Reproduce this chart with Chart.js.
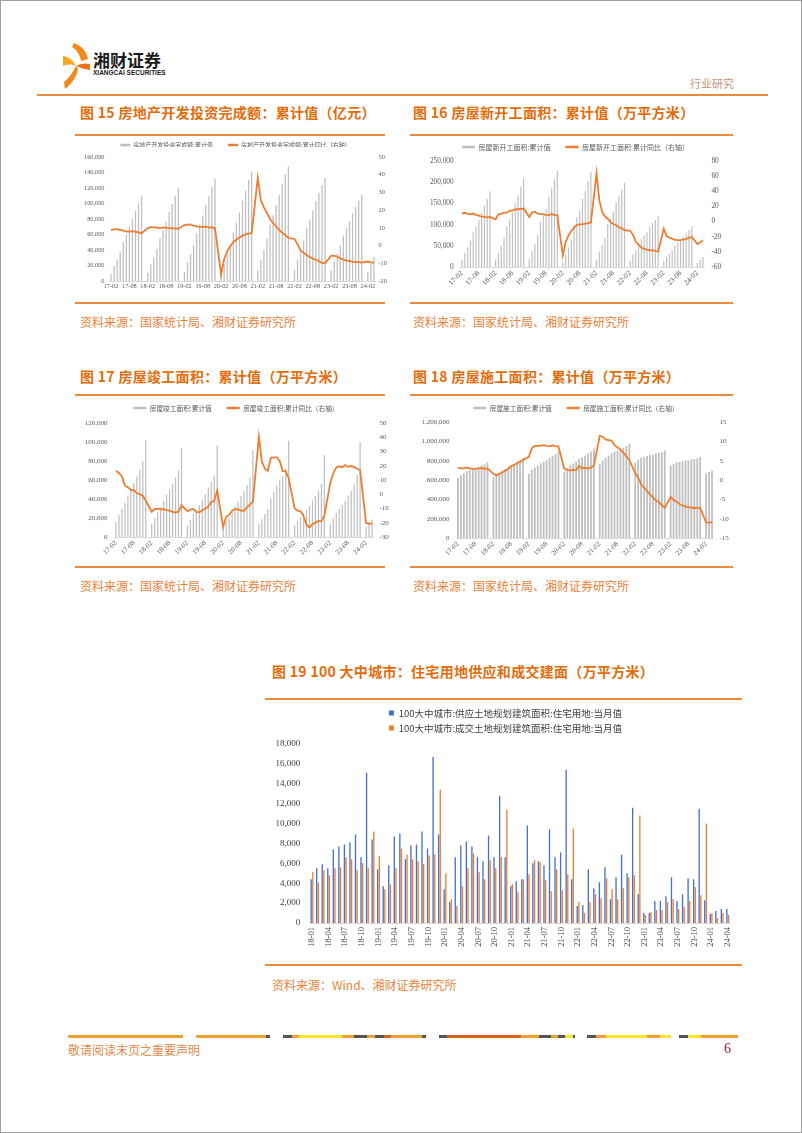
<!DOCTYPE html>
<html>
<head>
<meta charset="utf-8">
<script src="https://cdn.jsdelivr.net/npm/chart.js@4.4.1/dist/chart.umd.min.js"></script>
<style>
  body { margin: 0; background: #fff; }
  #frame { position: absolute; left: 0; top: 0; width: 802px; height: 1133px; box-sizing: border-box; border: 1px solid #a0a0a0; }
  .t { position: absolute; white-space: nowrap; font-family: "Noto Sans CJK SC", sans-serif; }
  .title { font-size: 14px; line-height: 16px; font-weight: bold; color: #e46c0a; letter-spacing: 0.3px; }
  .src { font-size: 12px; line-height: 14px; color: #e8823a; }
  .rule { position: absolute; height: 2px; background: #ec8a3c; }
  canvas { position: absolute; }
  .seg { position: absolute; top: 1035px; height: 3px; }
</style>
</head>
<body>
<div id="frame"></div>

<!-- 页眉 -->
<svg style="position:absolute;left:60px;top:42px" width="32" height="48" viewBox="0 0 32 48">
  <path d="M14 1 C22 4 27 10 28 17 L21 19 C20 13 17 8 12 5 Z" fill="#f08a1c"/>
  <path d="M3 14 C9 15 14 19 16 24 C12 22 7 22 3 24 Z" fill="#f5a623"/>
  <path d="M16 24 C21 21 26 21 30 22 L30 28 C25 27 20 26 16 24 Z" fill="#e8731a"/>
  <path d="M16 24 C13 30 9 36 4 40 L5 47 C12 42 17 34 18 27 Z" fill="#f08a1c"/>
</svg>
<div class="t" style="left:93px;top:50px;font-size:17px;line-height:20px;font-weight:bold;color:#1a1a1a">湘财证券</div>
<div class="t" style="left:93px;top:69px;font-size:6.5px;line-height:8px;font-weight:bold;color:#1a1a1a;font-family:'Liberation Sans Narrow','Liberation Sans',sans-serif">XIANGCAI SECURITIES</div>
<div class="t" style="left:690px;top:76px;font-size:11px;line-height:14px;color:#c4937a">行业研究</div>
<div class="rule" style="left:37px;top:94px;width:731px"></div>

<!-- 图15 / 图16 -->
<div class="t title" style="left:80px;top:104px">图 15 房地产开发投资完成额：累计值（亿元）</div>
<div class="t title" style="left:413px;top:104px">图 16 房屋新开工面积：累计值（万平方米）</div>
<div class="rule" style="left:75px;top:134px;width:310px"></div>
<div class="rule" style="left:410px;top:134px;width:323px"></div>
<canvas id="c15" width="321" height="158" style="left:75px;top:137px"></canvas>
<canvas id="c16" width="319" height="156" style="left:410px;top:137px"></canvas>
<div class="rule" style="left:75px;top:302px;width:310px"></div>
<div class="rule" style="left:410px;top:302px;width:323px"></div>
<div class="t src" style="left:80px;top:315px">资料来源：国家统计局、湘财证券研究所</div>
<div class="t src" style="left:413px;top:315px">资料来源：国家统计局、湘财证券研究所</div>

<!-- 图17 / 图18 -->
<div class="t title" style="left:80px;top:368px">图 17 房屋竣工面积：累计值（万平方米）</div>
<div class="t title" style="left:413px;top:368px">图 18 房屋施工面积：累计值（万平方米）</div>
<div class="rule" style="left:75px;top:394px;width:310px"></div>
<div class="rule" style="left:410px;top:394px;width:323px"></div>
<canvas id="c17" width="319" height="161" style="left:75px;top:398px"></canvas>
<canvas id="c18" width="336" height="162" style="left:400px;top:398px"></canvas>
<div class="rule" style="left:75px;top:566px;width:310px"></div>
<div class="rule" style="left:410px;top:566px;width:323px"></div>
<div class="t src" style="left:80px;top:579px">资料来源：国家统计局、湘财证券研究所</div>
<div class="t src" style="left:413px;top:579px">资料来源：国家统计局、湘财证券研究所</div>

<!-- 图19 -->
<div class="t title" style="left:272px;top:663px">图 19 100 大中城市：住宅用地供应和成交建面（万平方米）</div>
<div class="rule" style="left:265px;top:698px;width:477px"></div>
<canvas id="c19" width="477" height="263" style="left:265px;top:700px"></canvas>
<div class="rule" style="left:265px;top:964px;width:477px"></div>
<div class="t src" style="left:272px;top:978px">资料来源：Wind、湘财证券研究所</div>

<!-- 页脚 -->
<div id="footbar"></div>
<div class="t" style="left:68px;top:1043px;font-size:12px;line-height:14px;color:#e08a4a">敬请阅读末页之重要声明</div>
<div class="t" style="left:724px;top:1041px;font-size:14px;line-height:16px;color:#9b2335;font-family:'Liberation Serif',serif">6</div>

<script>
// 月份时间轴：17-02 ~ 24-04（1月无单独数据，留空）
const allMonths = [];
['17', '18', '19', '20', '21', '22', '23', '24'].forEach(y =>
  ['01', '02', '03', '04', '05', '06', '07', '08', '09', '10', '11', '12'].forEach(m => allMonths.push(y + '-' + m)));
const cumLabels = allMonths.slice(1, allMonths.indexOf('24-04') + 1);

// 图15 房地产开发投资完成额（亿元，每年 02~12 月）
const invCum = [9478, 19292, 27732, 37476, 50610, 59761, 69694, 80644, 90544, 100387, 109799,
  10357, 21291, 30592, 41362, 55531, 65559, 76519, 88948, 99325, 110083, 120264,
  12090, 23803, 34217, 46075, 61609, 72843, 84589, 98008, 109603, 121265, 132194,
  10115, 21963, 33103, 45920, 62780, 75325, 88454, 103484, 116556, 130492, 141443,
  13986, 27576, 40240, 54318, 72179, 84895, 98060, 110903, 124934, 137688, 147602,
  14499, 27765, 39154, 52134, 68314, 79462, 90809, 103559, 113945, 123863, 132895,
  13669, 25974, 35514, 45701, 58550, 67717, 76900, 87269, 95922, 104045, 110913,
  11842, 22082, 30928];
const invYoy = [8.9, 9.1, 9.3, 8.8, 8.5, 7.9, 7.9, 8.1, 7.8, 7.5, 7.0,
  9.9, 10.4, 10.3, 10.2, 9.7, 10.2, 10.1, 9.9, 9.7, 9.7, 9.5,
  11.6, 11.8, 11.9, 11.2, 10.9, 10.6, 10.5, 10.5, 10.3, 10.2, 9.9,
  -16.3, -7.7, -3.3, -0.3, 1.9, 3.4, 4.6, 5.6, 6.3, 6.8, 7.0,
  38.3, 25.6, 21.6, 18.3, 15.0, 12.7, 10.9, 8.8, 7.2, 6.0, 4.4,
  3.7, 0.7, -2.7, -4.0, -5.4, -6.4, -7.4, -8.0, -8.8, -9.8, -10.0,
  -5.7, -5.8, -6.2, -7.2, -7.9, -8.5, -8.8, -9.1, -9.3, -9.4, -9.6,
  -9.0, -9.5, -9.8];

// 图16 房屋新开工面积
const startCum = [17315, 33574, 46479, 62486, 81498, 94863, 110129, 129280, 144568, 161161, 178654,
  17817, 33556, 50000, 69500, 95800, 112300, 128300, 150600, 168500, 188900, 209342,
  18814, 37547, 53976, 75105, 105509, 120963, 136992, 165707, 185634, 206076, 227154,
  10370, 28203, 46348, 64813, 97536, 117117, 134076, 160492, 180000, 203000, 224433,
  17091, 36163, 52477, 69734, 101288, 115930, 130787, 152944, 166736, 182820, 198895,
  15001, 29838, 39739, 51628, 66423, 74865, 82201, 94767, 103722, 111632, 120587,
  13567, 24121, 31279, 39723, 49880, 56969, 63891, 72123, 79177, 87456, 95376,
  9429, 17394, 23510];
const startYoy = [10.4, 11.6, 10.1, 9.5, 10.6, 8.8, 7.8, 6.5, 6.1, 5.5, 6.0,
  2.9, 9.7, 10.1, 11.8, 11.8, 14.4, 14.4, 16.4, 16.3, 16.8, 17.2,
  6.0, 11.9, 13.1, 10.5, 10.1, 9.5, 8.9, 8.6, 10.0, 8.6, 8.5,
  -44.9, -27.2, -18.4, -12.8, -7.6, -4.5, -3.6, -3.4, -2.7, -2.0, -1.2,
  64.3, 28.2, 12.8, 6.9, 3.8, -0.9, -3.2, -4.5, -7.7, -9.1, -11.4,
  -12.2, -17.5, -26.3, -30.6, -34.4, -36.1, -37.2, -38.0, -37.8, -38.9, -39.4,
  -9.4, -19.2, -21.2, -22.6, -24.3, -24.5, -24.4, -23.4, -23.2, -21.2, -20.4,
  -29.7, -27.8, -24.6];

// 图17 房屋竣工面积
const doneCum = [15860, 22890, 29590, 35660, 43790, 50750, 56790, 63750, 70890, 79950, 101486,
  13800, 20100, 26600, 31500, 38500, 44500, 50100, 55700, 62700, 70000, 93550,
  12100, 18100, 24400, 27800, 33500, 39300, 45000, 52000, 58300, 64600, 95942,
  9600, 15600, 20500, 25500, 32000, 37600, 43000, 48200, 54900, 62400, 91218,
  13500, 19200, 24200, 29700, 40800, 47400, 54200, 59500, 63800, 72500, 101412,
  12220, 16960, 21290, 25140, 28640, 32990, 38420, 43210, 49050, 55710, 86222,
  13200, 19422, 25206, 30127, 33904, 38405, 43726, 48705, 55151, 65237, 99831,
  10529, 15356, 18509];
const doneYoy = [16.5, 14.9, 12.5, 6.0, 5.0, 3.0, 3.1, 0.7, 0.1, -1.0, -4.4,
  -12.3, -10.5, -10.1, -10.6, -10.5, -11.1, -11.5, -12.3, -12.8, -12.3, -7.8,
  -11.9, -10.8, -10.3, -12.4, -12.7, -11.3, -10.0, -8.6, -5.5, -4.5, 2.6,
  -22.9, -15.8, -14.5, -11.6, -10.5, -10.6, -11.4, -11.6, -9.2, -7.3, -4.9,
  40.4, 22.9, 17.9, 16.4, 25.7, 25.7, 26.0, 23.4, 16.3, 16.2, 11.2,
  -9.8, -11.5, -11.9, -15.3, -21.5, -23.3, -21.1, -19.9, -18.7, -19.0, -15.0,
  8.0, 14.7, 18.8, 19.6, 19.0, 20.5, 19.2, 19.8, 19.0, 17.9, 17.0,
  -20.2, -20.7, -20.4];

// 图18 房屋施工面积
const buildCum = [620000, 650000, 670000, 690000, 700000, 711000, 722000, 734000, 750000, 764000, 781484,
  630000, 655000, 675000, 694000, 714000, 730000, 745000, 760000, 780000, 800000, 822300,
  668000, 705000, 732000, 751000, 772000, 790000, 808000, 829000, 847000, 869000, 893821,
  688000, 723000, 752000, 771000, 792000, 818000, 833000, 854000, 873000, 896000, 926759,
  767000, 804000, 831000, 851000, 873000, 892000, 904000, 921000, 935000, 951000, 975387,
  781000, 810000, 829000, 839000, 849000, 859000, 864000, 873000, 882000, 889000, 904999,
  747000, 768000, 783000, 787000, 793000, 801000, 803000, 811000, 817000, 825000, 838364,
  665000, 683000, 698000];
const buildYoy = [3.2, 3.0, 3.0, 3.2, 3.0, 2.9, 2.9, 3.0, 3.1, 2.9, 3.0,
  1.6, 1.2, 1.6, 2.0, 2.4, 2.9, 3.6, 3.9, 4.4, 4.7, 5.2,
  6.0, 8.2, 8.8, 8.8, 8.8, 9.0, 8.8, 8.7, 9.0, 8.7, 8.7,
  2.9, 2.6, 2.5, 2.6, 2.6, 3.6, 3.1, 3.1, 3.0, 3.2, 3.7,
  11.4, 11.2, 10.5, 10.3, 10.2, 9.0, 8.4, 7.9, 7.1, 6.1, 5.2,
  1.8, 0.6, -1.1, -2.0, -2.8, -3.7, -4.5, -5.3, -5.7, -6.5, -7.2,
  -4.4, -5.2, -5.6, -6.2, -6.6, -6.8, -7.1, -7.1, -7.3, -7.2, -7.2,
  -11.0, -11.1, -10.8];

// 图19 100大中城市住宅用地（当月值，18-01 ~ 24-04）
const cityLabels = allMonths.slice(allMonths.indexOf('18-01'), allMonths.indexOf('24-04') + 1);
const landSupply = [4400, 5500, 5900, 5500, 7400, 7700, 7900, 8100, 8900, 6600, 15100, 8400,
  5400, 3700, 5800, 8700, 9000, 6400, 7800, 7900, 9200, 7500, 16700, 8900,
  3400, 2100, 6600, 7800, 8200, 7700, 6600, 6200, 8800, 6600, 12800, 6600,
  3700, 4200, 4400, 9800, 6000, 6200, 5800, 9400, 6600, 7100, 15400, 4400,
  1700, 1800, 5400, 3500, 4100, 5600, 2400, 4600, 6900, 5000, 11600, 2900,
  1000, 1000, 2200, 2200, 2700, 4600, 2200, 2900, 4500, 4400, 11500, 2300,
  900, 1200, 1400, 1400];
const landDeal = [5100, 4100, 5300, 4800, 5500, 5600, 6600, 6400, 5300, 6000, 5500, 9200,
  6700, 3400, 3900, 5500, 7500, 6900, 6400, 6200, 5900, 6800, 6900, 13400,
  5000, 2400, 1700, 3700, 5500, 7000, 5100, 4400, 6300, 5500, 6600, 11400,
  3900, 3100, 4400, 4900, 6300, 6100, 4300, 3200, 5400, 3300, 4900, 9500,
  2100, 1000, 2100, 2900, 2500, 4500, 3400, 2400, 3500, 4600, 4800, 10800,
  800, 1100, 1300, 1300, 2100, 2400, 1400, 1600, 2200, 3600, 2800, 10000,
  1000, 500, 1000, 800];

const serif = "'Liberation Serif', 'Times New Roman', serif";
const cjk = "'Noto Sans CJK SC', sans-serif";
const tickColor = '#595959';
const fmt = v => v.toLocaleString('en-US');

// 把 02~12 月的数据放到时间轴上，1 月为空
function onSlots(vals) {
  let k = 0;
  return cumLabels.map(l => (l.endsWith('-01') ? null : vals[k++]));
}

// 固定图例高度、垂直位置和水平偏移
function legendPlace(h, cy, dx) {
  return {
    id: 'legendPlace',
    beforeInit(chart) {
      const fit = chart.legend.fit;
      chart.legend.fit = function () {
        fit.call(this);
        this.height = h;
      };
    },
    afterLayout(chart) {
      const L = chart.legend;
      const lab = L.options.labels;
      L.top = cy - lab.padding - lab.font.size / 2;
      L.bottom = L.top + h;
      L.left += dx;
      L.right += dx;
    }
  };
}

function flatLegend(chart) {
  return Chart.defaults.plugins.legend.labels.generateLabels(chart).map(it => {
    it.lineWidth = 0;
    it.fillStyle = chart.data.datasets[it.datasetIndex].legendColor;
    return it;
  });
}

function dualChart(id, o) {
  new Chart(document.getElementById(id), {
    data: {
      labels: cumLabels,
      datasets: [{
        type: 'bar',
        label: o.barName,
        data: onSlots(o.bars),
        backgroundColor: '#bfbfbf',
        legendColor: '#bfbfbf',
        barPercentage: o.barPct,
        categoryPercentage: 1,
        yAxisID: 'y',
        order: 1
      }, {
        type: 'line',
        label: o.lineName,
        data: onSlots(o.line),
        spanGaps: true,
        borderColor: '#ed7d31',
        legendColor: '#ed7d31',
        borderWidth: 1.8,
        pointRadius: 0,
        tension: 0,
        yAxisID: 'y1',
        order: 0
      }]
    },
    plugins: [legendPlace(o.legH, o.legY, o.legDx)],
    options: {
      responsive: false,
      animation: false,
      plugins: {
        tooltip: { enabled: false },
        legend: {
          position: 'top',
          labels: {
            font: { size: o.legFont, family: cjk },
            color: tickColor,
            boxWidth: o.boxW,
            boxHeight: 2.5,
            padding: 15,
            sort: (a, b) => a.datasetIndex - b.datasetIndex,
            generateLabels: flatLegend
          }
        }
      },
      scales: {
        x: {
          grid: { display: false, drawTicks: false },
          border: { color: '#d9d9d9' },
          ticks: {
            autoSkip: false,
            maxRotation: o.rot,
            minRotation: o.rot,
            padding: o.xPad,
            font: { size: o.tickFont, family: serif },
            color: tickColor,
            callback: function (v) {
              const l = this.getLabelForValue(v);
              return /-(02|08)$/.test(l) ? l : '';
            }
          },
          afterFit: s => { s.height = o.xH; }
        },
        y: {
          position: 'left',
          min: 0,
          max: o.yMax,
          grid: { display: false, drawTicks: false },
          border: { display: false },
          ticks: { stepSize: o.yStep, padding: o.lPad, font: { size: o.tickFont, family: serif }, color: tickColor, callback: fmt },
          afterFit: s => { s.width = o.yW; }
        },
        y1: {
          position: 'right',
          min: o.rMin,
          max: o.rMax,
          grid: { display: false, drawTicks: false },
          border: { display: false },
          ticks: { stepSize: o.rStep, padding: o.rPad, font: { size: o.tickFont, family: serif }, color: tickColor },
          afterFit: s => { s.width = o.rW; }
        }
      }
    }
  });
}

dualChart('c15', {
  barName: '房地产开发投资完成额:累计值', lineName: '房地产开发投资完成额:累计同比（右轴）',
  bars: invCum, line: invYoy, barPct: 0.42,
  yMax: 160000, yStep: 20000, rMin: -20, rMax: 50, rStep: 10,
  yW: 34.5, rW: 20.5, lPad: 5, rPad: 3, xH: 14, xPad: 2, rot: 0, tickFont: 6.3,
  legFont: 6, boxW: 10, legH: 20, legY: 8, legDx: 0
});
dualChart('c16', {
  barName: '房屋新开工面积:累计值', lineName: '房屋新开工面积:累计同比（右轴）',
  bars: startCum, line: startYoy, barPct: 0.42,
  yMax: 250000, yStep: 50000, rMin: -60, rMax: 80, rStep: 20,
  yW: 50.6, rW: 24.6, lPad: 7, rPad: 7, xH: 26, xPad: 2, rot: 45, tickFont: 7.3,
  legFont: 7, boxW: 13, legH: 24, legY: 10, legDx: 6
});
dualChart('c17', {
  barName: '房屋竣工面积:累计值', lineName: '房屋竣工面积:累计同比（右轴）',
  bars: doneCum, line: doneYoy, barPct: 0.42,
  yMax: 120000, yStep: 20000, rMin: -30, rMax: 50, rStep: 10,
  yW: 39.5, rW: 20.5, lPad: 7, rPad: 6, xH: 22, xPad: 2, rot: 45, tickFont: 7,
  legFont: 6.7, boxW: 13, legH: 25, legY: 10, legDx: 1.5
});
dualChart('c18', {
  barName: '房屋施工面积:累计值', lineName: '房屋施工面积:累计同比（右轴）',
  bars: buildCum, line: buildYoy, barPct: 0.6,
  yMax: 1200000, yStep: 200000, rMin: -15, rMax: 15, rStep: 5,
  yW: 56.5, rW: 22.5, lPad: 7, rPad: 6, xH: 22, xPad: 2, rot: 45, tickFont: 7,
  legFont: 6.7, boxW: 13, legH: 24, legY: 10, legDx: 8
});

// 图19
new Chart(document.getElementById('c19'), {
  type: 'bar',
  data: {
    labels: cityLabels,
    datasets: [{
      label: '100大中城市:供应土地规划建筑面积:住宅用地:当月值',
      data: landSupply,
      backgroundColor: '#4472c4',
      legendColor: '#4472c4',
      barPercentage: 0.8,
      categoryPercentage: 0.6
    }, {
      label: '100大中城市:成交土地规划建筑面积:住宅用地:当月值',
      data: landDeal,
      backgroundColor: '#ed7d31',
      legendColor: '#ed7d31',
      barPercentage: 0.8,
      categoryPercentage: 0.6
    }]
  },
  plugins: [legendPlace(41, 13, 7)],
  options: {
    responsive: false,
    animation: false,
    layout: { padding: { top: 3, right: 10.2, left: 0, bottom: 0 } },
    plugins: {
      tooltip: { enabled: false },
      legend: {
        position: 'top',
        labels: {
          font: { size: 9.5, family: cjk },
          color: '#404040',
          boxWidth: 5,
          boxHeight: 5,
          padding: 5.5,
          generateLabels: flatLegend
        }
      }
    },
    scales: {
      x: {
        grid: { display: false, drawTicks: false },
        border: { color: '#d9d9d9' },
        ticks: {
          autoSkip: false,
          maxRotation: 90,
          minRotation: 90,
          padding: 4,
          font: { size: 8.5, family: serif },
          color: '#404040',
          callback: function (v, i) { return i % 3 === 0 ? this.getLabelForValue(v) : ''; }
        },
        afterFit: s => { s.height = 40; }
      },
      y: {
        min: 0,
        max: 18000,
        grid: { display: false, drawTicks: false },
        border: { display: false },
        ticks: { stepSize: 2000, padding: 9, font: { size: 9, family: serif }, color: '#404040', callback: fmt },
        afterFit: s => { s.width = 44.2; }
      }
    }
  }
});

// 页脚彩条
const footSegs = [
  [68, 183, '#f0a030'], [196, 266, '#f0a030'], [266, 270, '#555555'],
  [283, 292, '#555555'], [292, 299, '#f0a030'], [299, 342, '#f7e62a'], [342, 354, '#f0a030'],
  [354, 367, '#555555'], [367, 375, '#f0a030'], [375, 384, '#555555'], [384, 391, '#d8641a'],
  [391, 422, '#f0a030'], [422, 426, '#555555'],
  [439, 447, '#555555'], [447, 521, '#d8641a'], [521, 539, '#f0a030'], [539, 551, '#555555'],
  [551, 558, '#f0a030'], [558, 565, '#555555'], [565, 573, '#f7e62a'], [573, 575, '#555555'],
  [587, 596, '#555555'], [596, 606, '#f0a030'], [606, 647, '#f7e62a'], [647, 660, '#f0a030'], [660, 671, '#f7e62a'],
  [679, 688, '#555555'], [688, 701, '#f7e62a'], [701, 738, '#f0a030']
];
const fb = document.getElementById('footbar');
footSegs.forEach(s => {
  const d = document.createElement('div');
  d.className = 'seg';
  d.style.left = s[0] + 'px';
  d.style.width = (s[1] - s[0]) + 'px';
  d.style.background = s[2];
  fb.appendChild(d);
});
</script>
</body>
</html>
